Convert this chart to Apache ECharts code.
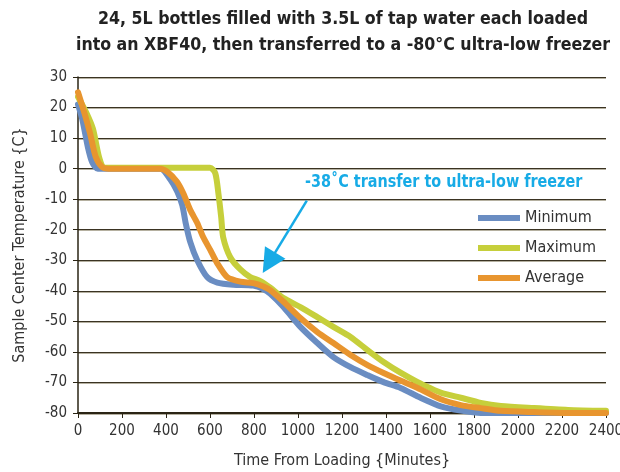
<!DOCTYPE html>
<html>
<head>
<meta charset="utf-8">
<script src="https://cdn.jsdelivr.net/npm/echarts@6/dist/echarts.min.js"></script>
<style>
html,body{margin:0;padding:0;background:#fff;}
#c{width:620px;height:472px;}
</style>
</head>
<body>
<div id="c"></div>
<script>
// ---- data (time in minutes, temperature in °C) ----
var seriesNames = ['Minimum', 'Maximum', 'Average'];
var minimumPoints = [[0,21],[20,16],[45,7],[65,2],[90,0],[150,0],[250,0],[375,0],[419,-3.5],[451,-7.5],[474,-12],[490,-18],[510,-24],[542,-30],[587,-35.5],[633,-37.3],[706,-38],[797,-38.3],[843,-39.5],[874,-41],[934,-45.3],[1011,-51.8],[1088,-57.1],[1161,-61.7],[1239,-65],[1316,-67.6],[1389,-69.9],[1466,-71.8],[1557,-75],[1649,-77.8],[1740,-79.2],[1831,-80],[2100,-80],[2400,-80]];
var maximumPoints = [[0,23.5],[40,18],[68,13],[95,4],[115,0.5],[140,0.3],[300,0.3],[600,0.3],[624,-1.5],[638,-8],[651,-16],[660,-22.5],[692,-29],[738,-33],[783,-35.5],[829,-36.8],[874,-39],[934,-42.4],[1011,-45.3],[1088,-48.6],[1161,-51.8],[1239,-55.1],[1316,-59.4],[1389,-63.3],[1466,-66.8],[1544,-69.9],[1600,-71.8],[1649,-73.3],[1740,-75],[1831,-76.7],[1922,-77.7],[2072,-78.4],[2227,-79],[2400,-79.3]];
var averagePoints = [[0,25],[30,18],[55,11.5],[80,4],[110,0.5],[140,0],[373,0],[405,-1],[450,-4.3],[478,-8],[510,-13.5],[542,-17.8],[569,-22.4],[601,-26.6],[633,-31],[678,-35.5],[738,-37],[797,-37.5],[843,-38.6],[874,-39.8],[934,-43.6],[1011,-48.9],[1088,-53.5],[1161,-57.1],[1239,-61],[1316,-64.3],[1389,-66.9],[1466,-69.4],[1544,-71.8],[1649,-75.5],[1740,-77.4],[1831,-78.4],[1922,-79.3],[2072,-79.7],[2250,-80],[2400,-80]];
var annotationText = '-38˚C transfer to ultra-low freezer';
var arrowFrom = [1040, -10.5];
var arrowTo = [868, -30.8];

var colors = ['#6a8dc2', '#c6cf3b', '#e8952f'];
var FONT = "'DejaVu Sans Condensed', 'Liberation Sans Narrow', sans-serif";

var chart = echarts.init(document.getElementById('c'), null, {renderer: 'canvas'});
var pts = [minimumPoints, maximumPoints, averagePoints];
var series = pts.map(function (p, i) {
  return {
    name: seriesNames[i],
    type: 'line',
    data: p,
    showSymbol: false,
    symbol: 'none',
    smooth: 0.25,
    z: 2 + i,
    lineStyle: {width: 6, color: colors[i], cap: 'round', join: 'round'},
    itemStyle: {color: colors[i]}
  };
});
// arrow annotation drawn in data coordinates
series.push({
  type: 'line',
  data: [],
  silent: true,
  z: 10,
  markLine: {
    silent: true,
    symbol: ['none', 'triangle'],
    symbolSize: [24, 24],
    label: {show: false},
    lineStyle: {color: '#17abe6', width: 2.5, type: 'solid'},
    data: [[{coord: arrowFrom}, {coord: arrowTo}]]
  }
});

chart.setOption({
  animation: false,
  backgroundColor: '#fff',
  color: colors,
  title: {
    text: '24, 5L bottles filled with 3.5L of tap water each loaded\ninto an XBF40, then transferred to a -80°C ultra-low freezer',
    left: 338, textAlign: 'center', top: 1,
    textStyle: {fontFamily: FONT, fontSize: 17.6, fontWeight: 'bold', color: '#222', lineHeight: 26}
  },
  legend: {
    orient: 'vertical',
    left: 473, top: 204,
    itemWidth: 42, itemHeight: 6, itemGap: 12,
    icon: 'rect',
    data: seriesNames,
    textStyle: {fontFamily: FONT, fontSize: 16, color: '#333', lineHeight: 18, padding: [0,0,0,0]}
  },
  grid: {left: 78, right: 14, top: 77, bottom: 59, containLabel: false, outerBoundsMode: 'none'},
  xAxis: {
    type: 'value', min: 0, max: 2400, interval: 200,
    name: 'Time From Loading {Minutes}', nameLocation: 'middle', nameGap: 40,
    nameTextStyle: {fontFamily: FONT, fontSize: 16, color: '#333'},
    axisLine: {onZero: false, lineStyle: {color: '#2a2414', width: 2}},
    axisTick: {show: true, length: 5, lineStyle: {color: '#2a2414', width: 1}},
    axisLabel: {fontFamily: FONT, fontSize: 15, color: '#333', margin: 11,
      formatter: function (v) { return String(v); }},
    splitLine: {show: false}
  },
  yAxis: {
    type: 'value', min: -80, max: 30, interval: 10,
    name: 'Sample Center Temperature {C}', nameLocation: 'middle', nameGap: 50,
    nameTextStyle: {fontFamily: FONT, fontSize: 16, color: '#333'},
    axisLine: {show: true, onZero: false, lineStyle: {color: '#2a2414', width: 1.5}},
    axisTick: {show: true, length: 5, lineStyle: {color: '#2a2414', width: 1}},
    axisLabel: {fontFamily: FONT, fontSize: 15, color: '#333', margin: 11},
    splitLine: {show: true, lineStyle: {color: '#3a3322', width: 1, shadowColor: '#b5b0a0', shadowOffsetY: 1, shadowBlur: 0}}
  },
  graphic: [{
    type: 'text', left: 305, top: 173, scaleY: 1.15,
    style: {text: annotationText, fill: '#17abe6', font: 'bold 16px ' + FONT}
  }],
  series: series
});
</script>
</body>
</html>
